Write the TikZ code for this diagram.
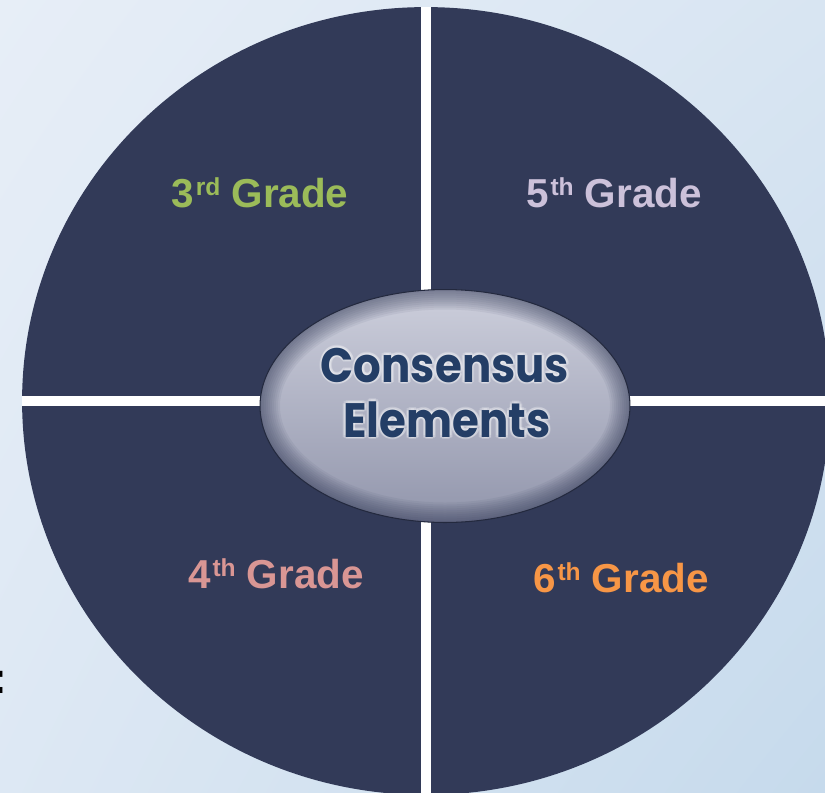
\documentclass[tikz,border=0pt]{standalone}
\usepackage{fontspec}
\setmainfont{Liberation Sans}
\newfontfamily\corefont{Poppins}[FakeStretch=0.9]
\usepackage{tikz}
\usetikzlibrary{shapes.geometric,shadings}
\definecolor{wheelnavy}{RGB}{50,58,88}
\definecolor{bgtop}{RGB}{231,238,247}
\definecolor{bgbot}{RGB}{198,218,236}
\definecolor{coretop}{RGB}{205,207,220}
\definecolor{coremid}{RGB}{128,150,210}
\definecolor{corebot}{RGB}{146,150,172}
\definecolor{coretext}{RGB}{36,62,102}
\definecolor{gThree}{RGB}{155,187,89}
\definecolor{gFour}{RGB}{217,150,148}
\definecolor{gFive}{RGB}{204,193,218}
\definecolor{gSix}{RGB}{247,150,70}

% small raised ordinal ending
\newcommand{\ordsup}[1]{\kern1pt\raisebox{6.3pt}{\fontsize{14}{14}\selectfont #1}}

\begin{document}
\begin{tikzpicture}[
  x=0.02cm, y=-0.02cm,
  % ── shapes ───────────────────────────────────────────────
  wheel/.style={
    ellipse, inner sep=0pt,
    minimum width=16.16cm, minimum height=15.76cm,
    fill=wheelnavy
  },
  spoke/.style={draw=white, line width=0.2cm},
  core/.style={
    ellipse, inner sep=0pt,
    minimum width=7.4cm, minimum height=4.66cm,
    top color=coretop, middle color=coremid, bottom color=corebot,
    draw=wheelnavy!70!black, line width=0.6pt
  },
  % ── labels ───────────────────────────────────────────────
  grade/.style={anchor=base, inner sep=0pt,
    font=\fontsize{23}{27}\selectfont\bfseries},
  coreword/.style={anchor=base, inner sep=0pt,
    font=\fontsize{27.5}{32}\selectfont\corefont\bfseries},
]

%% ── BACKGROUND ───────────────────────────────────────────────
\clip (0,0) rectangle (825,792);
\shade[upper left=bgtop, upper right=bgtop!55!bgbot,
       lower left=bgtop!70!bgbot, lower right=bgbot]
  (0,0) rectangle (825,792);

%% ── WHEEL AND SPOKES ─────────────────────────────────────────
\node[wheel] (wheel) at (426,401) {};
\draw[spoke] (wheel.north) -- (wheel.south);
\draw[spoke] (wheel.west) -- (wheel.east);

%% ── CENTRE ELLIPSE (dark rim faded inwards) ──────────────────
\node[core, path picture={
    \foreach \w in {4,8,...,40}{
      \draw[wheelnavy, line width=\w*0.02cm, opacity=0.07]
        (path picture bounding box.center)
        ellipse [x radius=185, y radius=116.5];}
  }] (core) at (445,406) {};

% glowing words
\foreach \dx/\dy [count=\i] in {-2.5/0, 2.5/0, 0/-2.5, 0/2.5,
                                -1.8/-1.8, 1.8/-1.8, -1.8/1.8, 1.8/1.8}{
  \node[coreword, text=white, opacity=0.22] (glowA\i) at (445+\dx,382+\dy) {Consensus};
  \node[coreword, text=white, opacity=0.22] (glowB\i) at (447+\dx,437+\dy) {Elements};}
\node[coreword, text=coretext] (consensus) at (445,382) {Consensus};
\node[coreword, text=coretext] (elements)  at (447,437) {Elements};

%% ── GRADE LABELS ─────────────────────────────────────────────
\node[grade, text=gThree] (third)  at (260,207) {3\ordsup{rd} Grade};
\node[grade, text=gFive]  (fifth)  at (614,207) {5\ordsup{th} Grade};
\node[grade, text=gFour]  (fourth) at (276,588) {4\ordsup{th} Grade};
\node[grade, text=gSix]   (sixth)  at (621,592) {6\ordsup{th} Grade};

%% ── STRAY COLON AT THE LEFT EDGE ─────────────────────────────
\node[anchor=base east, inner sep=0pt,
      font=\fontsize{25}{30}\selectfont\bfseries] (colon) at (7,693) {:};

\end{tikzpicture}
\end{document}
